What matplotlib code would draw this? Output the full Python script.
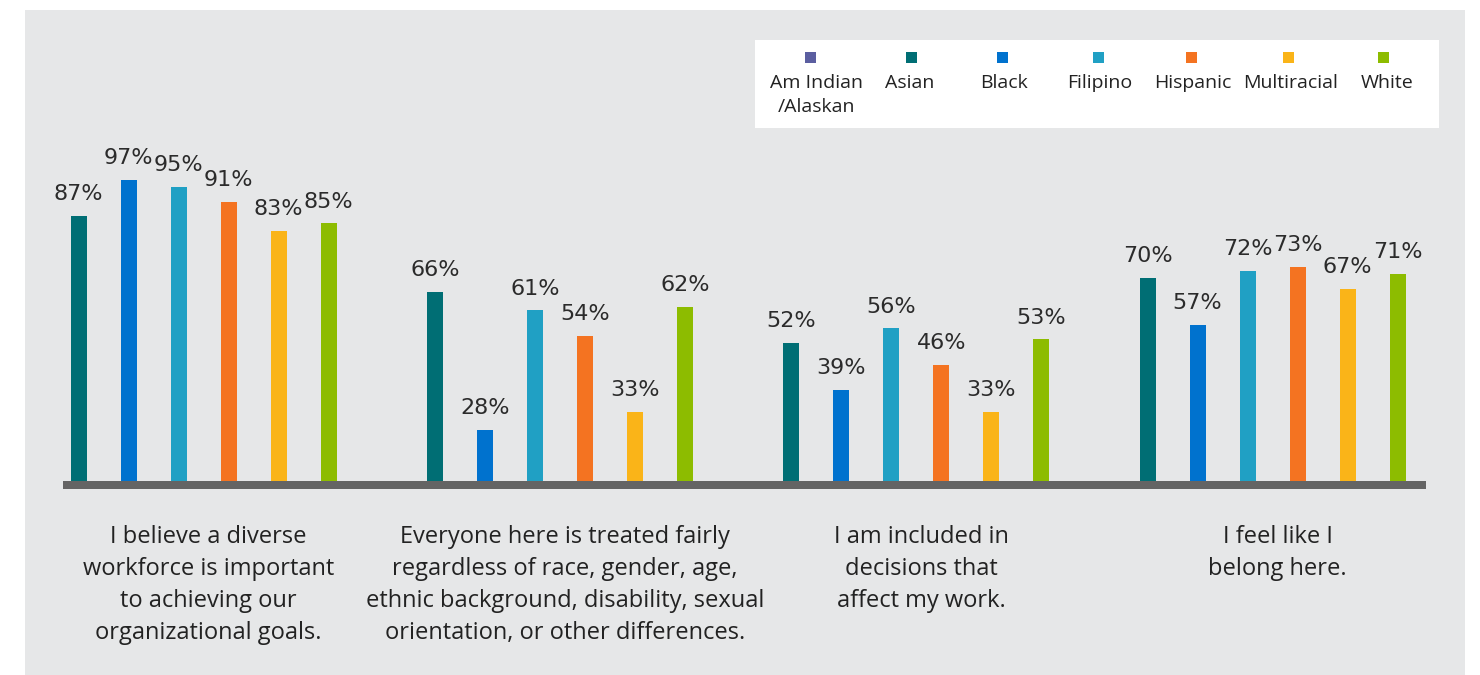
import numpy as np
import matplotlib
matplotlib.use("Agg")
import matplotlib.pyplot as plt
from matplotlib.patches import Rectangle

# ---- data -------------------------------------------------------------
questions = [
    "I believe a diverse\nworkforce is important\nto achieving our\norganizational goals.",
    "Everyone here is treated fairly\nregardless of race, gender, age,\nethnic background, disability, sexual\norientation, or other differences.",
    "I am included in\ndecisions that\naffect my work.",
    "I feel like I\nbelong here.",
]
series_names = ["Am Indian\n/Alaskan", "Asian", "Black", "Filipino",
                "Hispanic", "Multiracial", "White"]
am_indian = [np.nan, np.nan, np.nan, np.nan]
asian = [87, 66, 52, 70]
black = [97, 28, 39, 57]
filipino = [95, 61, 56, 72]
hispanic = [91, 54, 46, 73]
multiracial = [83, 33, 33, 67]
white = [85, 62, 53, 71]
series_values = [am_indian, asian, black, filipino, hispanic, multiracial, white]

colors = ["#5B5EA0", "#006E74", "#0072CE", "#20A0C4",
          "#F47321", "#FAB418", "#8DBC00"]

# ---- figure -----------------------------------------------------------
W, H = 1480, 675
fig = plt.figure(figsize=(W / 100, H / 100), dpi=100)
fig.patch.set_facecolor("white")


def fx(px):
    return px / W


def fy(py):
    return 1 - py / H


# grey panel
fig.add_artist(Rectangle((fx(25), 0), fx(1465) - fx(25), fy(10),
                         transform=fig.transFigure, facecolor="#E6E7E8",
                         edgecolor="none", zorder=0))

ax = fig.add_axes([fx(63), fy(485), fx(1426) - fx(63), fy(10) - fy(485)])
ax.set_facecolor("none")
ax.set_axis_off()

y_floor = 12.8
ax.set_ylim(y_floor, 143.9)
ax.set_xlim(0.686, 27.946)

group_step = 7.126
bar_w = 0.32
label_font = "DejaVu Sans"
text_font = ["Open Sans", "DejaVu Sans"]

for s, (vals, col) in enumerate(zip(series_values, colors)):
    for g, v in enumerate(vals):
        if np.isnan(v):
            continue
        x = g * group_step + s
        ax.bar(x, v, width=bar_w, color=col, zorder=2)
        ax.annotate(f"{v:.0f}%", (x, v), xytext=(0, 8.5),
                    textcoords="offset points", ha="center", va="bottom",
                    fontsize=16, color="#2b2b2b", family=label_font)

# baseline
ax.axhline(y_floor, color="#646464", lw=8 * 0.72, solid_capstyle="butt",
           clip_on=False, zorder=3)

# question labels under each group
for g, q in enumerate(questions):
    xc = g * group_step + 3.5 + 0.1
    ax.annotate(q, (xc, y_floor), xytext=(0, -28.5), textcoords="offset points",
                ha="center", va="top", fontsize=17, color="#222222",
                family=text_font, linespacing=1.46)

# legend box with markers above labels
fig.add_artist(Rectangle((fx(755), fy(128)), fx(1439) - fx(755),
                         fy(40) - fy(128), transform=fig.transFigure,
                         facecolor="white", edgecolor="none", zorder=1))
marker_x = [810, 911, 1002, 1098, 1191, 1288, 1383]
text_x = [817, 910, 1004, 1100, 1193, 1291, 1387]
for name, col, mx, tx in zip(series_names, colors, marker_x, text_x):
    fig.add_artist(Rectangle((fx(mx - 5.5), fy(63)), fx(11), fy(52) - fy(63),
                             transform=fig.transFigure, facecolor=col,
                             edgecolor="none", zorder=2))
    fig.text(fx(tx), fy(73.5), name, ha="center", va="top", fontsize=14,
             color="#222222", family=text_font, linespacing=1.5, zorder=3)

fig.savefig("out.png", dpi=100)
